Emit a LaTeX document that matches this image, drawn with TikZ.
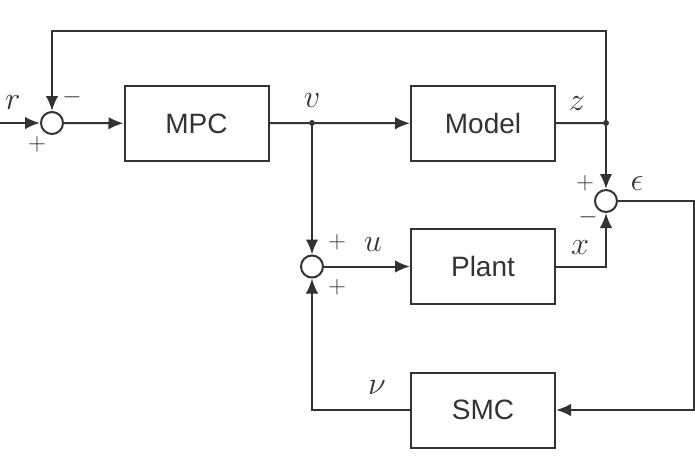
\documentclass[tikz,border=0pt]{standalone}
\usepackage{fontspec}
\setsansfont{Liberation Sans}
\usepackage{graphicx}
\usetikzlibrary{arrows.meta}
\definecolor{ln}{HTML}{333333}
\newcommand{\sgnl}[1]{\scalebox{1.3}{$#1$}}
\begin{document}
\begin{tikzpicture}[x=1pt,y=-1pt,
  blk/.style={draw=ln, line width=2pt, minimum width=144pt, minimum height=75pt, inner sep=0pt, font=\sffamily\fontsize{28}{28}\selectfont, text=ln},
  sumc/.style={circle, draw=ln, line width=2pt, minimum size=22pt, inner sep=0pt},
  conn/.style={draw=ln, line width=2pt},
  arr/.style={conn, -{Latex[length=15pt,width=12.5pt]}},
  jdot/.style={circle, fill=ln, inner sep=0pt, minimum size=6pt},
  sig/.style={font=\fontsize{24.88}{25}\selectfont, text=ln, inner sep=0pt},
  sgn/.style={font=\fontsize{24.88}{25}\selectfont, text=ln, inner sep=0pt}]
\path[use as bounding box] (0,0) rectangle (695,460);
\node[blk] (mpc) at (196.5,123.5) {MPC};
\node[blk] (model) at (483,123.5) {Model};
\node[blk] (plant) at (483,266.5) {Plant};
\node[blk] (smc) at (483,410) {SMC};
\node[sumc] (s1) at (52,123) {};
\node[sumc] (s2) at (606,201) {};
\node[sumc] (s3) at (312,266.5) {};
\coordinate (in) at (0,123);
\node[jdot] (jv) at (312,123) {};
\node[jdot] (jz) at (606,123) {};
\coordinate (tl) at (52,31.5);
\coordinate (tr) at (606,31.5);
\coordinate (er) at (694,201);
\coordinate (eb) at (694,410);
\coordinate (nl) at (312,410);
\draw[arr] (in) -- (s1);
\draw[arr] (s1) -- (mpc);
\draw[conn] (mpc) -- (jv);
\draw[arr] (jv) -- (model);
\draw[arr] (jv) -- (s3);
\draw[conn] (model) -- (jz);
\draw[arr] (jz) -- (s2);
\draw[arr] (jz.center) -- (tr) -- (tl) -- (s1);
\draw[arr] (s3) -- (plant);
\draw[arr] (plant.east) -| (s2);
\draw[arr] (s2) -- (er) -- (eb) -- (smc);
\draw[arr] (smc.west) -- (nl) -- (s3);
\node[sig] (lr) at (13,103) {\sgnl{r}};
\node[sgn] (m1) at (72,97) {$-$};
\node[sgn] (p1) at (37,144) {$+$};
\node[sig] (lv) at (312,101) {\sgnl{v}};
\node[sig] (lz) at (577,104) {\sgnl{z}};
\node[sgn] (p2) at (585,183) {$+$};
\node[sig] (le) at (637,184) {\sgnl{\epsilon}};
\node[sgn] (m2) at (588,217) {$-$};
\node[sgn] (p3) at (337,242) {$+$};
\node[sig] (lu) at (373,245) {\sgnl{u}};
\node[sgn] (p4) at (337,287) {$+$};
\node[sig] (lx) at (580,248) {\sgnl{x}};
\node[sig] (ln) at (377,388) {\sgnl{\nu}};
\end{tikzpicture}
\end{document}
